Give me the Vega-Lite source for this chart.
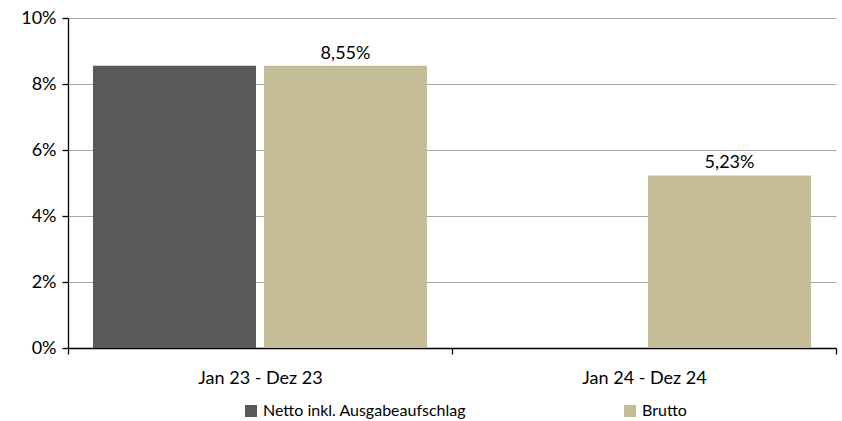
{
  "$schema": "https://vega.github.io/schema/vega-lite/v6.json",
  "width": 768,
  "height": 330,
  "autosize": {"type": "none"},
  "padding": {"left": 68, "top": 18, "right": 6, "bottom": 73},
  "background": "white",
  "config": {
    "locale": {"number": {"decimal": ",", "thousands": ".", "grouping": [3], "currency": ["", " €"]}},
    "font": "Lato",
    "view": {"stroke": null}
  },
  "data": {
    "values": [
      {"period": "Jan 23 - Dez 23", "series": "Netto inkl. Ausgabeaufschlag", "value": 0.0855},
      {"period": "Jan 23 - Dez 23", "series": "Brutto", "value": 0.0855},
      {"period": "Jan 24 - Dez 24", "series": "Brutto", "value": 0.0523}
    ]
  },
  "encoding": {
    "x": {
      "field": "period", "type": "nominal", "title": null,
      "scale": {"paddingInner": 0, "paddingOuter": 0},
      "axis": {"labelAngle": 0, "labelFontSize": 18, "labelColor": "#000", "labelPadding": 15,
               "domainColor": "#000", "domainWidth": 1.3, "tickColor": "#000", "tickSize": 6, "tickBand": "extent", "tickWidth": 1.3}
    },
    "xOffset": {
      "field": "series", "type": "nominal",
      "sort": ["Netto inkl. Ausgabeaufschlag", "Brutto"],
      "scale": {"paddingInner": 0.047, "paddingOuter": 0.146}
    },
    "y": {
      "field": "value", "type": "quantitative", "title": null,
      "scale": {"domain": [0, 0.1]},
      "axis": {"format": ".0%", "values": [0, 0.02, 0.04, 0.06, 0.08, 0.1], "labelFontSize": 18, "labelColor": "#000", "labelPadding": 6,
               "domainColor": "#000", "domainWidth": 1.3, "tickColor": "#000", "tickSize": 6, "tickWidth": 1.3,
               "gridColor": "#a6a6a6", "gridWidth": 1}
    }
  },
  "layer": [
    {
      "mark": {"type": "bar"},
      "encoding": {
        "color": {
          "field": "series", "type": "nominal",
          "sort": ["Netto inkl. Ausgabeaufschlag", "Brutto"],
          "scale": {"domain": ["Netto inkl. Ausgabeaufschlag", "Brutto"], "range": ["#595959", "#C4BD97"]},
          "legend": {"orient": "none", "legendX": 175, "legendY": 385, "title": null, "direction": "horizontal", "symbolType": "square", "symbolSize": 144,
                     "symbolStrokeWidth": 0, "labelFontSize": 16, "labelColor": "#000", "labelOffset": 4, "columnPadding": 155, "labelLimit": 400}
        }
      }
    },
    {
      "transform": [{"filter": "datum.series == 'Brutto'"}],
      "mark": {"type": "text", "baseline": "bottom", "dy": -3, "fontSize": 18, "color": "#000"},
      "encoding": {"text": {"field": "value", "type": "quantitative", "format": ".2%"}}
    }
  ]
}
